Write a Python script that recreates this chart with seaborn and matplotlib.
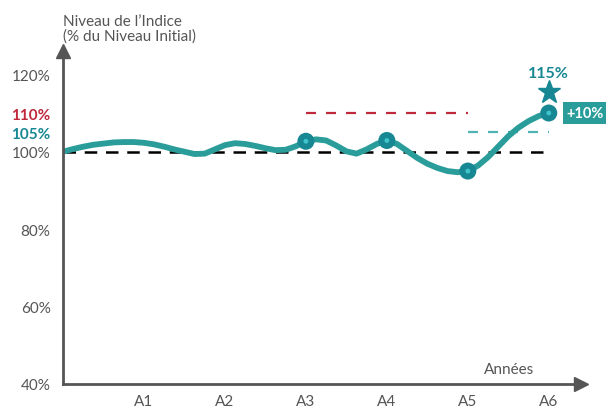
import numpy as np
import pandas as pd
import seaborn as sns
import matplotlib.pyplot as plt

# index path, every 1/8 year
years = [i / 8 for i in range(49)]
level = [100.0, 100.7, 101.3, 101.8, 102.1, 102.4, 102.5, 102.5,
         102.3, 101.9, 101.3, 100.6, 100.0, 99.4, 99.5, 100.6,
         101.7, 102.2, 102.0, 101.5, 100.9, 100.4, 100.5, 101.4,
         102.7, 103.2, 102.9, 101.6, 100.1, 99.5, 100.6, 102.0,
         102.9, 102.0, 100.2, 98.4, 96.9, 95.8, 95.0, 94.7,
         95.0, 96.4, 98.6, 101.3, 104.0, 106.2, 107.9, 109.2,
         110.0]

obs_years = [3, 4, 5, 6]
obs_level = [102.7, 102.9, 95.0, 110.0]

x_labels = ["", "A1", "A2", "A3", "A4", "A5", "A6"]
y_ticks = [40, 60, 80, 100, 105, 110, 120]
y_labels = ["40%", "60%", "80%", "100%", "105%", "110%", "120%"]

barrier = 100
coupon = 110
autocall = 105
final_value = 115

teal = "#2a9d9b"
dark_teal = "#178793"
red = "#c0283b"
grey = "#555555"

sns.set_style("white")
plt.rcParams["font.family"] = ["Lato", "DejaVu Sans"]

fig = plt.figure(figsize=(6.06, 4.10), dpi=100)
ax = fig.add_axes([0.104, 0.061, 0.855, 0.812])

df = pd.DataFrame({"year": years, "level": level})
obs = pd.DataFrame({"year": obs_years, "level": obs_level})

ax.plot([0, 6], [barrier, barrier], color="black", lw=1.8, dashes=(5, 3.5), zorder=1)
ax.plot([3, 5], [coupon, coupon], color=red, lw=1.6, dashes=(4.5, 4.5), zorder=1)
ax.plot([5, 6], [autocall, autocall], color="#4fb3b3", lw=1.6, dashes=(4.5, 4.5), zorder=1)

sns.lineplot(data=df, x="year", y="level", color=teal, lw=4.2, ax=ax,
             zorder=2, solid_capstyle="round", solid_joinstyle="round")
sns.scatterplot(data=obs, x="year", y="level", color=dark_teal, s=150,
                edgecolor="none", ax=ax, zorder=3)
sns.scatterplot(data=obs, x="year", y="level", color="#3fc3cc", s=12,
                edgecolor="none", ax=ax, zorder=4)

ax.plot([6], [final_value + 0.4], marker="*", color=dark_teal, ms=17, zorder=4, clip_on=False)
ax.text(6, final_value + 5.4, f"{final_value}%", color=dark_teal, fontsize=11.5,
        fontweight="bold", ha="center", va="center")
ax.text(6.22, coupon, "+10%", color="white", fontsize=10.5, fontweight="bold",
        ha="left", va="center", clip_on=False,
        bbox=dict(boxstyle="square,pad=0.25", fc=teal, ec="none"))

ax.set_xlim(0, 6.4)
ax.set_ylim(40, 126)
ax.set_xticks(range(7))
ax.set_xticklabels(x_labels)
ax.set_yticks(y_ticks)
ax.set_yticklabels(y_labels)
ax.set_xlabel("")
ax.set_ylabel("")

for s in ["top", "right"]:
    ax.spines[s].set_visible(False)
for s in ["left", "bottom"]:
    ax.spines[s].set_color(grey)
    ax.spines[s].set_linewidth(2)

ax.tick_params(axis="both", colors=grey, length=6, width=1.6, labelsize=11,
               labelcolor=grey, direction="out")
ax.tick_params(axis="x", pad=1)
ax.tick_params(axis="y", pad=3)
for lab in ax.get_yticklabels():
    if lab.get_text() == "110%":
        lab.set_color(red)
        lab.set_fontweight("bold")
    elif lab.get_text() == "105%":
        lab.set_color(dark_teal)
        lab.set_fontweight("bold")

# axis arrow heads
ax.plot([1], [0], marker=">", color=grey, ms=10, transform=ax.transAxes, clip_on=False)
ax.plot([0], [1], marker="^", color=grey, ms=10, transform=ax.transAxes, clip_on=False)

ax.text(5.2, 44, "Années", color=grey, fontsize=11, ha="left", va="center")
fig.text(0.104, 0.963, "Niveau de l’Indice\n(% du Niveau Initial)", color=grey,
         fontsize=11, ha="left", va="top", linespacing=1.0)

fig.savefig("out.png", dpi=100)
